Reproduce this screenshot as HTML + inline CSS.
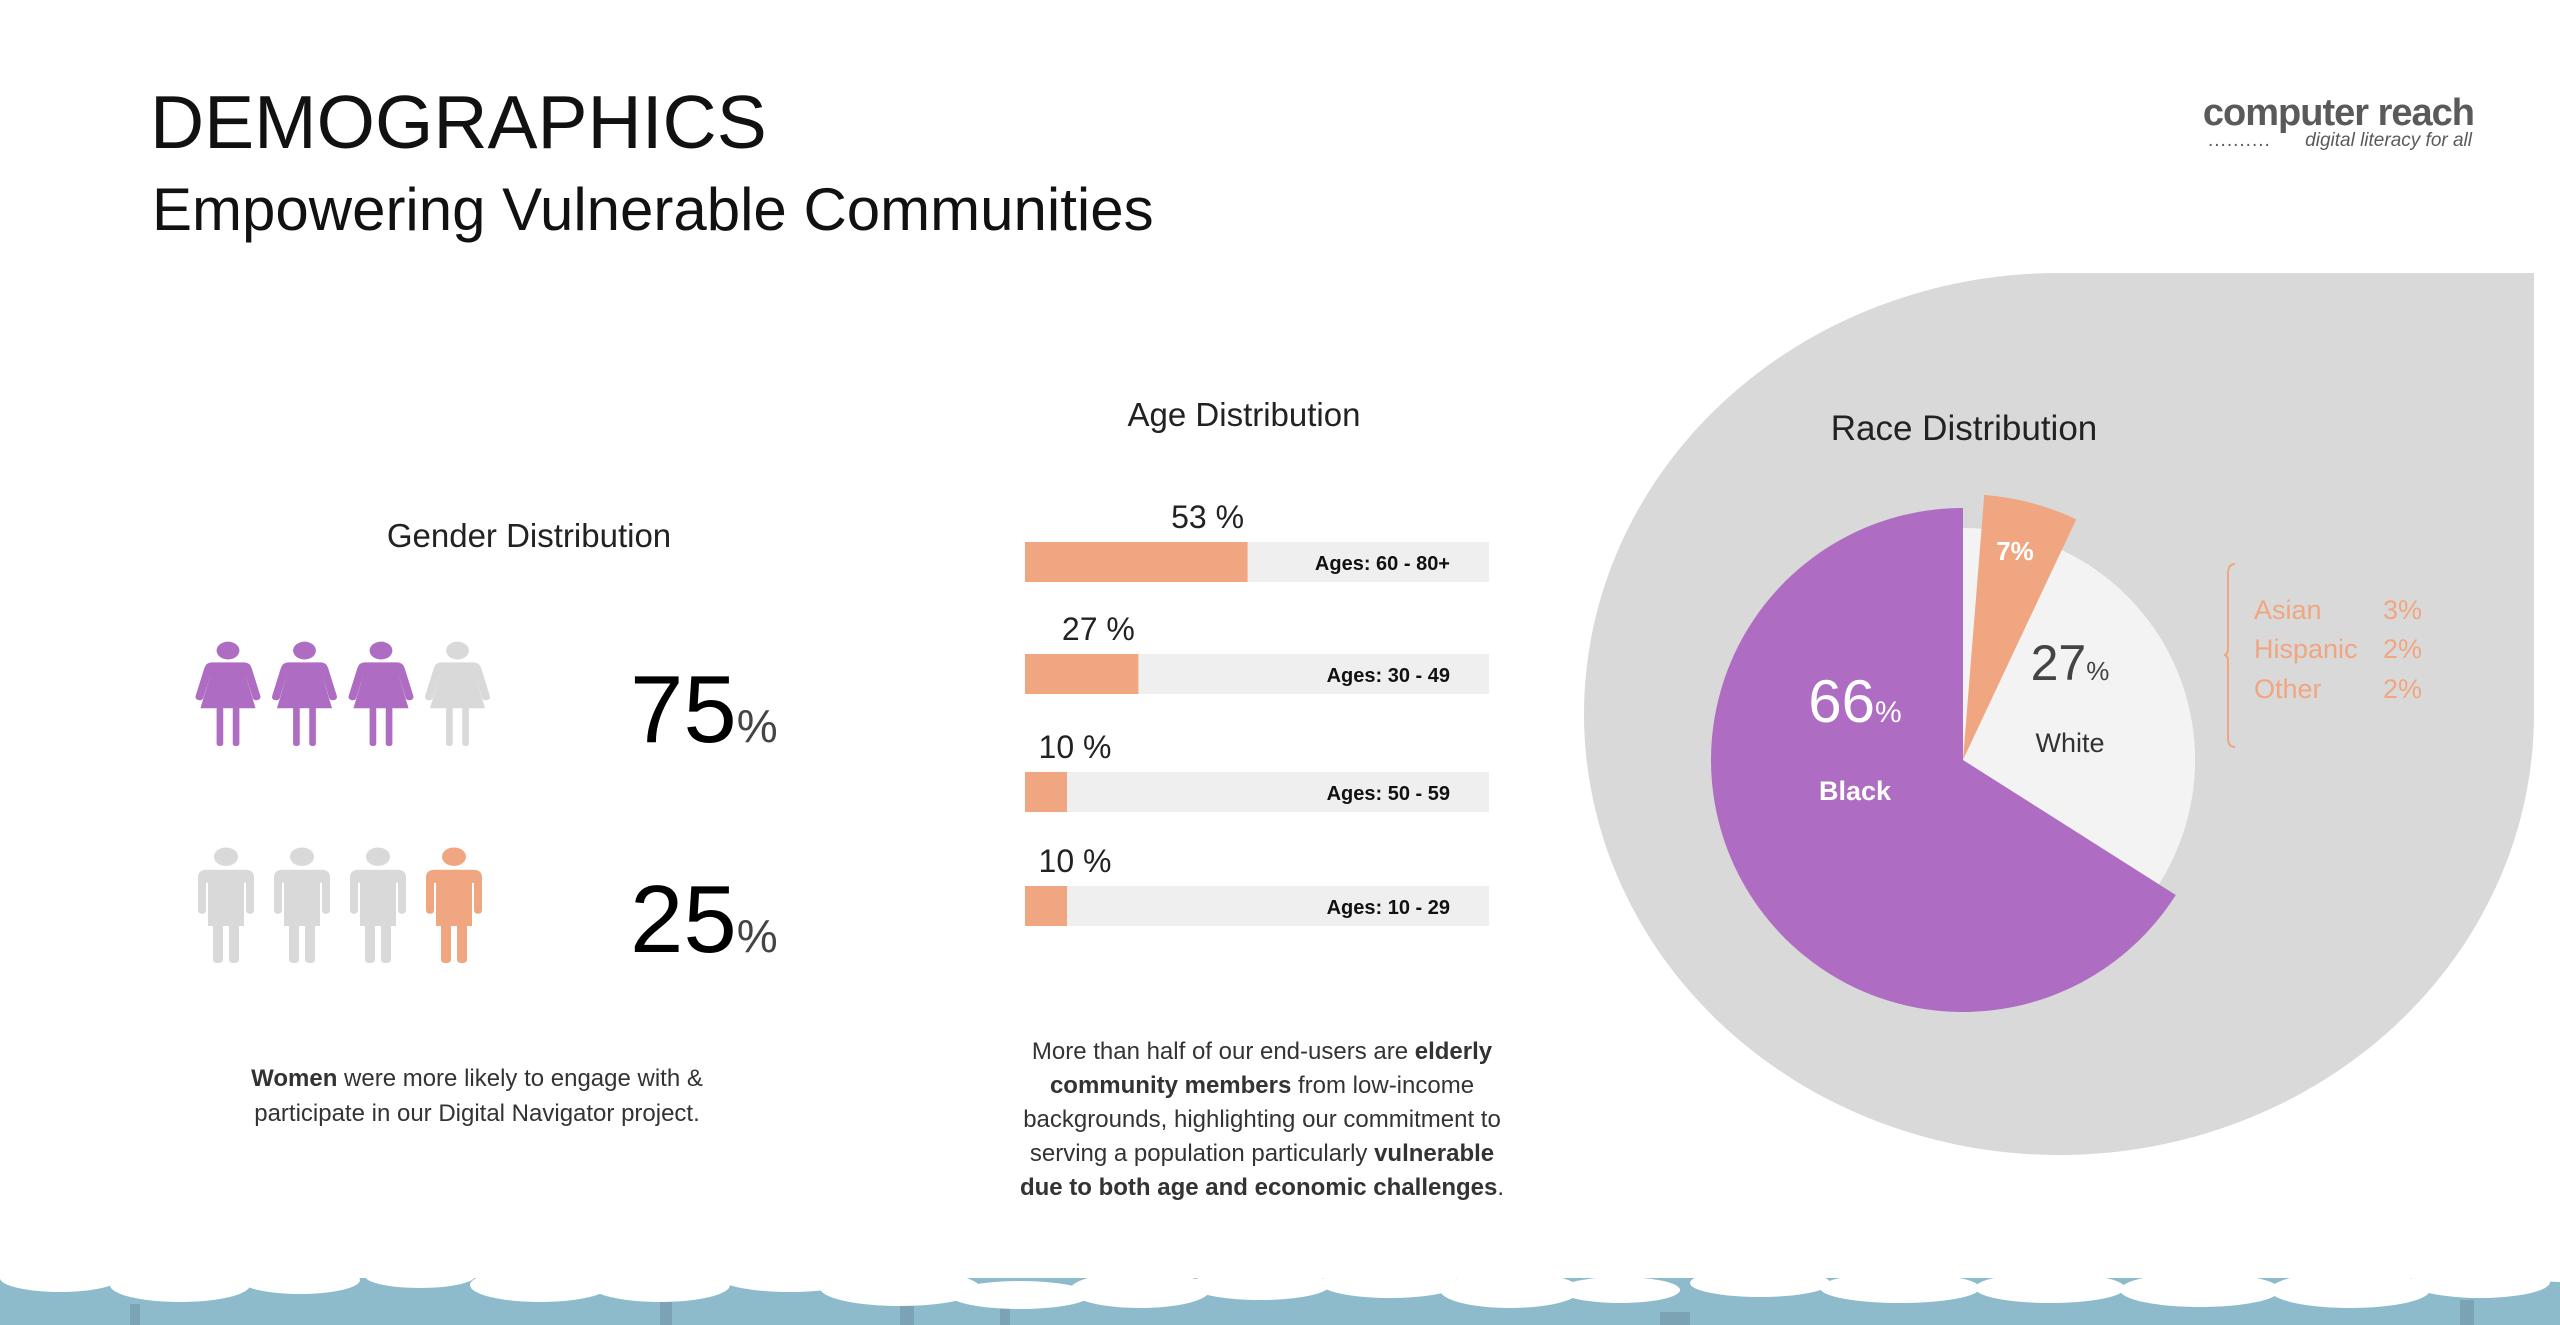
<!DOCTYPE html>
<html><head><meta charset="utf-8"><style>
html,body{margin:0;padding:0;background:#fff;width:2560px;height:1325px;overflow:hidden}
svg{display:block;font-family:"Liberation Sans",sans-serif}
</style></head><body>
<svg id="root" width="2560" height="1325" viewBox="0 0 2560 1325">
<defs>
<g id="woman">
<circle cx="0" cy="-56" r="12"/>
<path d="M-17,-40 H17 Q23,-40 25,-32 L34,5 Q35,10 31,11 Q27,12 26,8 L18,-25 L29,22 H-29 L-18,-25 L-26,8 Q-27,12 -31,11 Q-35,10 -34,5 L-25,-32 Q-23,-40 -17,-40Z"/>
<rect x="-12" y="20" width="7" height="53" rx="3"/>
<rect x="5" y="20" width="7" height="53" rx="3"/>
</g>
<g id="man">
<circle cx="0" cy="-64" r="12"/>
<path d="M-19,-47 H19 Q28,-47 28,-37 V5 Q28,10 24,10 Q20,10 20,5 V-30 H18 V26 H-18 V-30 H-20 V5 Q-20,10 -24,10 Q-28,10 -28,5 V-37 Q-28,-47 -19,-47Z"/>
<rect x="-13" y="20" width="10" height="54" rx="4"/>
<rect x="3" y="20" width="10" height="54" rx="4"/>
</g>
</defs>

<!-- header -->
<text x="150" y="148" font-size="75" fill="#111">DEMOGRAPHICS</text>
<text x="152" y="230" font-size="60" fill="#111">Empowering Vulnerable Communities</text>
<g>
<text x="2474" y="125" font-size="38" font-weight="bold" fill="#5a5a5a" text-anchor="end" letter-spacing="-1">computer reach</text>
<text x="2472" y="146" font-size="19" font-style="italic" fill="#5a5a5a" text-anchor="end">digital literacy for all</text>
<text x="2208" y="146" font-size="19" fill="#5a5a5a" letter-spacing="1">..........</text>
</g>

<!-- gender -->
<text x="529" y="547" font-size="33" fill="#222" text-anchor="middle">Gender Distribution</text>
<g id="women"></g>
<g id="men"></g>
<text x="630" y="742" font-size="96" fill="#000">75<tspan font-size="46" fill="#444">%</tspan></text>
<text x="630" y="952" font-size="96" fill="#000">25<tspan font-size="46" fill="#444">%</tspan></text>
<g font-size="24" fill="#333" text-anchor="middle">
<text x="477" y="1086"><tspan font-weight="bold">Women</tspan> were more likely to engage with &amp;</text>
<text x="477" y="1121">participate in our Digital Navigator project.</text>
</g>

<!-- age -->
<text x="1244" y="426" font-size="33" fill="#222" text-anchor="middle">Age Distribution</text>
<g id="age"></g>
<g font-size="24" fill="#333" text-anchor="middle">
<text x="1262" y="1059">More than half of our end-users are <tspan font-weight="bold">elderly</tspan></text>
<text x="1262" y="1093"><tspan font-weight="bold">community members</tspan> from low-income</text>
<text x="1262" y="1127">backgrounds, highlighting our commitment to</text>
<text x="1262" y="1161">serving a population particularly <tspan font-weight="bold">vulnerable</tspan></text>
<text x="1262" y="1195"><tspan font-weight="bold">due to both age and economic challenges</tspan>.</text>
</g>

<!-- race -->
<path d="M2060,273 H2534 V714 A475,441 0 1 1 2060,273 Z" fill="#d9d9d9"/>
<text x="1964" y="440" font-size="35" fill="#222" text-anchor="middle">Race Distribution</text>
<g id="pie"></g>
<text x="1855" y="722" font-size="60" fill="#fff" text-anchor="middle">66<tspan font-size="30">%</tspan></text>
<text x="1855" y="800" font-size="27" font-weight="bold" fill="#fff" text-anchor="middle">Black</text>
<text x="2070" y="680" font-size="50" fill="#444" text-anchor="middle">27<tspan font-size="26">%</tspan></text>
<text x="2070" y="752" font-size="27" fill="#333" text-anchor="middle">White</text>
<text x="2015" y="560" font-size="26" font-weight="bold" fill="#fff" text-anchor="middle">7%</text>
<path d="M2235,564 Q2228,564 2228,574 V648 Q2228,655 2224,655 Q2228,655 2228,662 V738 Q2228,747 2235,747" fill="none" stroke="#f0a680" stroke-width="2"/>
<g font-size="27" fill="#f0a680">
<text x="2254" y="619">Asian</text><text x="2422" y="619" text-anchor="end">3%</text>
<text x="2254" y="658">Hispanic</text><text x="2422" y="658" text-anchor="end">2%</text>
<text x="2254" y="698">Other</text><text x="2422" y="698" text-anchor="end">2%</text>
</g>

<!-- footer -->
<g>
<rect x="0" y="1276" width="2560" height="49" fill="#8dbbcb"/>
<g fill="#7ba3b3">
<rect x="130" y="1304" width="10" height="21"/><rect x="660" y="1302" width="12" height="23"/>
<rect x="900" y="1300" width="14" height="25"/><rect x="1000" y="1302" width="10" height="23"/>
<rect x="1660" y="1312" width="30" height="13"/><rect x="2460" y="1300" width="14" height="25"/>
</g>
<g fill="#fff">
<ellipse cx="60" cy="1278" rx="60" ry="14"/><ellipse cx="180" cy="1285" rx="70" ry="17"/><ellipse cx="300" cy="1280" rx="60" ry="14"/>
<ellipse cx="420" cy="1276" rx="55" ry="12"/><ellipse cx="540" cy="1285" rx="70" ry="17"/><ellipse cx="660" cy="1285" rx="70" ry="17"/>
<ellipse cx="790" cy="1278" rx="70" ry="14"/><ellipse cx="900" cy="1288" rx="80" ry="18"/><ellipse cx="1020" cy="1295" rx="70" ry="14"/>
<ellipse cx="1140" cy="1290" rx="70" ry="18"/><ellipse cx="1260" cy="1285" rx="70" ry="15"/><ellipse cx="1390" cy="1283" rx="70" ry="15"/>
<ellipse cx="1510" cy="1290" rx="70" ry="18"/><ellipse cx="1620" cy="1290" rx="60" ry="13"/><ellipse cx="1760" cy="1283" rx="70" ry="14"/>
<ellipse cx="1900" cy="1288" rx="80" ry="15"/><ellipse cx="2050" cy="1288" rx="75" ry="15"/><ellipse cx="2200" cy="1290" rx="80" ry="17"/>
<ellipse cx="2350" cy="1290" rx="80" ry="18"/><ellipse cx="2480" cy="1282" rx="70" ry="16"/><ellipse cx="2560" cy="1270" rx="40" ry="12"/>
<rect x="0" y="1262" width="2560" height="16"/>
</g>
</g>
</svg>
<script>
const NS='http://www.w3.org/2000/svg';
// gender data
const genderIcons=4;
const womenFilled=3;
const menFilled=1;
// age data
const ageLabels=['Ages: 60 - 80+','Ages: 30 - 49','Ages: 50 - 59','Ages: 10 - 29'];
const ageValues=[53,27,10,10];
const ageValueLabels=['53 %','27 %','10 %','10 %'];
// race data
const raceNames=['Other','White','Black'];
const raceValues=[7,27,66];
const raceColors=['#f0a680','#f3f3f3','#ae6dc2'];

function mk(tag,attrs,parent){const e=document.createElementNS(NS,tag);for(const k in attrs)e.setAttribute(k,attrs[k]);parent.appendChild(e);return e;}

const wg=document.getElementById('women'),mg=document.getElementById('men');
for(let i=0;i<genderIcons;i++){
  const w=mk('use',{href:'#woman',transform:`translate(${228+i*76.5},692) scale(0.95,0.74)`,fill:i<womenFilled?'#ae6dc2':'#d9d9d9'},wg);
  
  
  const m=mk('use',{href:'#man',transform:`translate(${226+i*76},906) scale(1,0.77)`,fill:i>=genderIcons-menFilled?'#f0a680':'#d9d9d9'},mg);
  
  
}

const ag=document.getElementById('age');
const trackX=1025,trackW=464,barH=40,pxPer=4.2;
const xs=v=>v*pxPer;
const rowY=[542,654,772,886];
ageValues.forEach((v,i)=>{
  const y=rowY[i];
  const t=mk('rect',{x:trackX,y:y,width:trackW,height:barH,fill:'#efefef'},ag);
  
  
  const w=xs(v);
  const b=mk('rect',{x:trackX,y:y,width:w,height:barH,fill:'#f0a680'},ag);
  
  
  const l=mk('text',{x:1450,y:y+28,'font-size':20,'font-weight':'bold',fill:'#111','text-anchor':'end'},ag);
  l.textContent=ageLabels[i];
  
  
  const vl=mk('text',{x:trackX+Math.max(w-40,50),y:y-14,'font-size':32,fill:'#222','text-anchor':'middle'},ag);
  vl.textContent=ageValueLabels[i];
  
  
});

const pg=document.getElementById('pie');
const cx=1963,cy=760;
const radii=[266,232,252];
const total=raceValues.reduce((a,b)=>a+b,0);
const bg=mk('circle',{cx:cx,cy:cy,r:232,fill:'#f3f3f3'},pg);


let acc=0;
raceValues.forEach((v,i)=>{
  let a0=acc/total*2*Math.PI, a1=(acc+v)/total*2*Math.PI;
  acc+=v;
  if(i===0)a0+=0.08;
  const r=radii[i];
  const p=(a)=>[cx+r*Math.sin(a),cy-r*Math.cos(a)];
  const [x0,y0]=p(a0),[x1,y1]=p(a1);
  const large=(a1-a0)>Math.PI?1:0;
  const s=mk('path',{d:`M${cx},${cy} L${x0},${y0} A${r},${r} 0 ${large} 1 ${x1},${y1} Z`,fill:raceColors[i]},pg);
  
  
});
</script>
</body></html>
